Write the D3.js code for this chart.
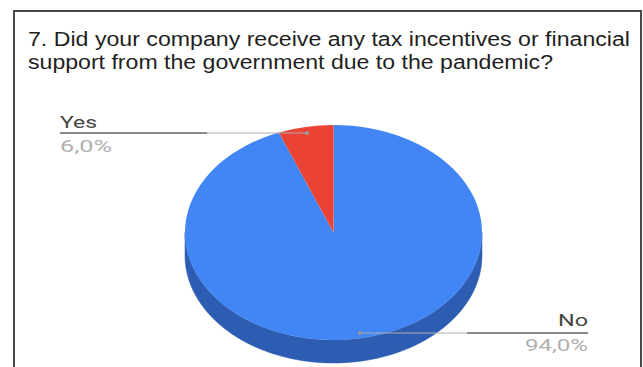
<!DOCTYPE html>
<html><head><meta charset="utf-8">
<script src="https://cdn.jsdelivr.net/npm/d3@7"></script>
<style>html,body{margin:0;padding:0;background:#fff;}svg{display:block;}</style>
</head><body>
<svg id="c" width="643" height="367"></svg>
<script>
const titleLines = ["7. Did your company receive any tax incentives or financial", "support from the government due to the pandemic?"];
const categories = ["No", "Yes"];
const values = [94.0, 6.0];
const valueLabels = ["94,0%", "6,0%"];
const colors = ["#4285f4", "#ea4335"];
const sideColors = ["#2c5db3", "#a8332a"];

const svg = d3.select("#c");
svg.append("rect").attr("x", 14).attr("y", 11).attr("width", 627).attr("height", 400)
  .attr("fill", "#fff").attr("stroke", "#4a4a4a").attr("stroke-width", 2);

const tl = [602, 525];
titleLines.forEach((t, i) => {
  svg.append("text").attr("x", 28).attr("y", 46 + i * 22.5)
    .attr("font-family", "Liberation Sans, Arial, sans-serif").attr("font-size", 20)
    .attr("fill", "#1f1f1f").attr("textLength", tl[i]).attr("lengthAdjust", "spacingAndGlyphs").text(t);
});

const cx = 333.5, cy = 232.5, rx = 148.5, ry = 107.5, depth = 23;
const pie = d3.pie().sort(null).value(d => d)(values);
const px = a => cx + rx * Math.sin(a);
const py = a => cy - ry * Math.cos(a);

// side walls (front half only: angles PI/2 .. 3PI/2)
pie.forEach((s, i) => {
  const a0 = Math.max(s.startAngle, Math.PI / 2), a1 = Math.min(s.endAngle, 3 * Math.PI / 2);
  if (a1 <= a0) return;
  const n = 80;
  const angs = d3.range(n + 1).map(k => a0 + (a1 - a0) * k / n);
  const top = angs.map(a => [px(a), py(a)]);
  const bot = angs.slice().reverse().map(a => [px(a), py(a) + depth]);
  svg.append("path").attr("d", d3.line()(top.concat(bot)) + "Z")
    .attr("fill", sideColors[i]).attr("stroke", sideColors[i]).attr("stroke-width", 0.5);
});

// top faces
const arc = d3.arc().innerRadius(0).outerRadius(rx);
const g = svg.append("g").attr("transform", `translate(${cx},${cy}) scale(1,${ry / rx})`);
g.selectAll("path").data(pie).join("path").attr("d", arc).attr("fill", (d, i) => colors[i]);

// labels with leader lines
const labelFont = "Roboto, Arial, sans-serif";
function leader(dot, xLeft, xRight, thickFrom, thickTo, y) {
  svg.append("line").attr("x1", xLeft).attr("x2", xRight).attr("y1", y).attr("y2", y)
    .attr("stroke", "#b0b0b0").attr("stroke-width", 1.2);
  svg.append("line").attr("x1", thickFrom).attr("x2", thickTo).attr("y1", y).attr("y2", y)
    .attr("stroke", "#8a8a8a").attr("stroke-width", 2);
  svg.append("circle").attr("cx", dot).attr("cy", y).attr("r", 2).attr("fill", "#999");
}
// Yes
leader(307, 60, 307, 60, 207, 133);
svg.append("text").attr("x", 60).attr("y", 128).attr("font-family", labelFont).attr("font-size", 17)
  .attr("fill", "#444").attr("textLength", 37).attr("lengthAdjust", "spacingAndGlyphs").text(categories[1]);
svg.append("text").attr("x", 60).attr("y", 152).attr("font-family", labelFont).attr("font-size", 16)
  .attr("fill", "#b0b0b0").attr("textLength", 52).attr("lengthAdjust", "spacingAndGlyphs").text(valueLabels[1]);
// No
leader(360, 360, 588, 467, 588, 333);
svg.append("text").attr("x", 588).attr("y", 326).attr("text-anchor", "end").attr("font-family", labelFont).attr("font-size", 17)
  .attr("fill", "#444").attr("textLength", 30).attr("lengthAdjust", "spacingAndGlyphs").text(categories[0]);
svg.append("text").attr("x", 588).attr("y", 351).attr("text-anchor", "end").attr("font-family", labelFont).attr("font-size", 16)
  .attr("fill", "#b0b0b0").attr("textLength", 63).attr("lengthAdjust", "spacingAndGlyphs").text(valueLabels[0]);
</script>
</body></html>
